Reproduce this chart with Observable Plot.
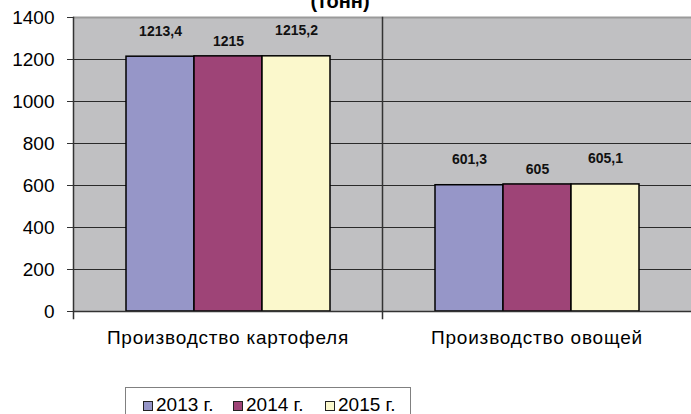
<!DOCTYPE html>
<html>
<head>
<meta charset="utf-8">
<script src="https://cdn.jsdelivr.net/npm/d3@7"></script>
<script src="https://cdn.jsdelivr.net/npm/@observablehq/plot@0.6"></script>
<style>
  html, body { margin: 0; padding: 0; background: #fff; }
  body { width: 691px; height: 414px; position: relative; overflow: hidden; font-family: Arial, "Liberation Sans", sans-serif; }
  #title { position: absolute; left: 0; width: 680px; text-align: center; top: -9px; font-size: 20px; line-height: 20px; font-weight: bold; color: #000; }
  #chart { position: absolute; left: 0; top: 0; }
  #chart svg g[aria-label="fx-axis tick label"] text { letter-spacing: 0.8px; }
  #legend { position: absolute; left: 125px; top: 387px; width: 284px; height: 40px; border: 1px solid #808080; background: #fff; }
  .sw { position: absolute; width: 8px; height: 8px; border: 1px solid #222; top: 13px; }
  .lt { position: absolute; top: 7px; font-size: 19px; line-height: 19px; color: #000; white-space: nowrap; }
</style>
</head>
<body>
<div id="title">(тонн)</div>
<div id="chart"></div>
<div id="legend"></div>
<script>
const categories = ["Производство картофеля", "Производство овощей"];
const years = ["2013 г.", "2014 г.", "2015 г."];
const values2013 = [1213.4, 601.3];
const values2014 = [1215, 605];
const values2015 = [1215.2, 605.1];
const colors = ["#9696c8", "#9e4477", "#fbf8cc"];
const yTicks = [0, 200, 400, 600, 800, 1000, 1200, 1400];

const series = [values2013, values2014, values2015];
const data = [];
categories.forEach((c, i) => years.forEach((y, j) => data.push({category: c, year: y, value: series[j][i]})));
const fmt = v => String(v).replace(".", ",");

const W = 691, H = 370;
const chart = Plot.plot({
  width: W,
  height: H,
  marginLeft: 72,
  marginRight: 0,
  marginTop: 17,
  marginBottom: 59,
  style: {fontFamily: "Arial, 'Liberation Sans', sans-serif", color: "#000", background: "transparent"},
  fx: {domain: categories, padding: 0, label: null},
  x: {domain: years, paddingInner: 0, paddingOuter: 0.743, axis: null},
  y: {domain: [0, 1400], label: null},
  color: {domain: years, range: colors},
  marks: [
    Plot.frame({fill: "#c0c0c2", stroke: null}),
    Plot.ruleY(yTicks.filter(t => t > 0 && t < 1400), {stroke: "#2a2a2a", strokeWidth: 1}),
    Plot.ruleY([1400], {stroke: "#9a9a9a", strokeWidth: 2}),
    Plot.frame({anchor: "left", stroke: "#333", strokeWidth: 1.5, insetBottom: -7}),
    Plot.barY(data, {fx: "category", x: "year", y: "value", fill: "year", stroke: "#000", strokeWidth: 1.5}),
    Plot.ruleY([0], {stroke: "#333", strokeWidth: 1.5}),
    Plot.axisY({ticks: yTicks, tickSize: 6, tickPadding: 13, fontSize: 19, tickFormat: d => String(d), stroke: "#333"}),
    Plot.axisFx({anchor: "bottom", tickSize: 0, tickPadding: 19, fontSize: 19, label: null}),
    Plot.text(data.filter(d => d.year !== years[1]), {fx: "category", x: "year", y: "value", text: d => fmt(d.value), dy: -21, lineAnchor: "bottom", fontSize: 14, fontWeight: "bold", fill: "#111"}),
    Plot.text(data.filter(d => d.year === years[1]), {fx: "category", x: "year", y: "value", text: d => fmt(d.value), dy: -10, lineAnchor: "bottom", fontSize: 14, fontWeight: "bold", fill: "#111"})
  ]
});
document.getElementById("chart").appendChild(chart);

const legend = document.getElementById("legend");
const swX = [17, 107, 199];
years.forEach((y, i) => {
  const s = document.createElement("div");
  s.className = "sw";
  s.style.left = swX[i] + "px";
  s.style.background = colors[i];
  legend.appendChild(s);
  const t = document.createElement("div");
  t.className = "lt";
  t.style.left = (swX[i] + 13) + "px";
  t.textContent = y;
  legend.appendChild(t);
});
</script>
</body>
</html>
